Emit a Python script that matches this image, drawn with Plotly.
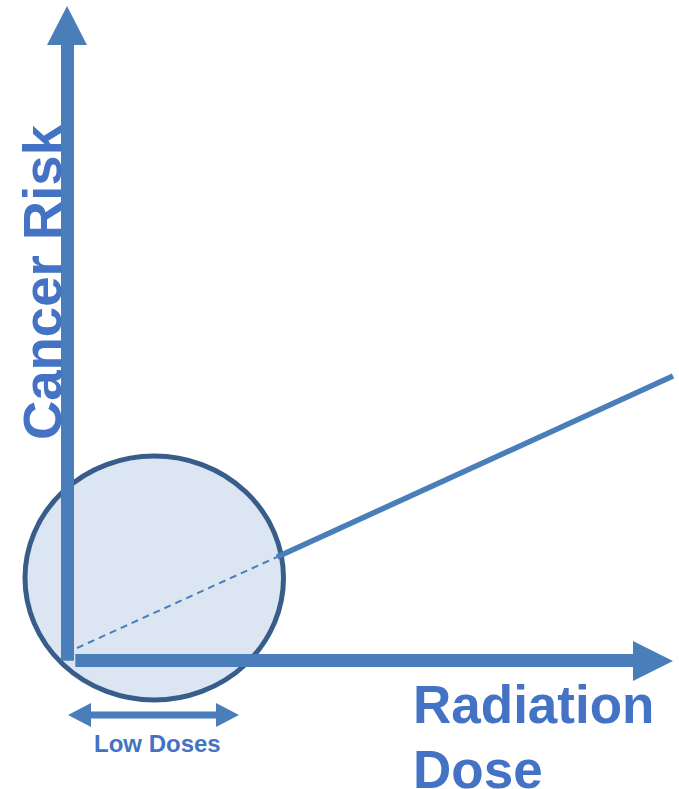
import plotly.graph_objects as go

# ---- data (dose/risk in chart units, origin at the axes corner) ----
lnt_dose_low = [9, 209]        # dashed (low-dose extrapolation)
lnt_risk_low = [13, 104]
lnt_dose_high = [209, 605]     # solid (observed range)
lnt_risk_high = [104, 285]

x_title = ["Radiation", "Dose"]
y_title = "Cancer Risk"
low_label = "Low Doses"

ARROW = "#4A7EBB"
TEXT = "#4472C4"
CIRC_LINE = "#385D8A"
CIRC_FILL = "#DCE6F2"
FONT = "Liberation Sans, Arial, sans-serif"

fig = go.Figure()

fig.add_trace(go.Scatter(x=lnt_dose_low, y=lnt_risk_low, mode="lines",
                         line=dict(color=ARROW, width=2, dash="7px,5px"),
                         hoverinfo="skip", showlegend=False))
fig.add_trace(go.Scatter(x=lnt_dose_high, y=lnt_risk_high, mode="lines",
                         line=dict(color=ARROW, width=5.5),
                         hoverinfo="skip", showlegend=False))

shapes = []
# low-dose region circle (below traces)
shapes.append(dict(type="circle", xref="x", yref="y", layer="below",
                   x0=-43, x1=215.5, y0=-39, y1=205,
                   line=dict(color=CIRC_LINE, width=5), fillcolor=CIRC_FILL))
# vertical axis arrow
shapes.append(dict(type="line", xref="x", yref="y", x0=-0.5, x1=-0.5, y0=0.3, y1=617,
                   line=dict(color=ARROW, width=13)))
shapes.append(dict(type="path", xref="x", yref="y",
                   path="M -21,616 L 19,616 L -1,655 Z",
                   fillcolor=ARROW, line=dict(width=0)))
# horizontal axis arrow
shapes.append(dict(type="line", xref="x", yref="y", x0=7.3, x1=566, y0=0.5, y1=0.5,
                   line=dict(color=ARROW, width=13)))
shapes.append(dict(type="path", xref="x", yref="y",
                   path="M 565,20 L 565,-20 L 605,0 Z",
                   fillcolor=ARROW, line=dict(width=0)))
# low doses double arrow
shapes.append(dict(type="line", xref="x", yref="y", x0=22, x1=149, y0=-54, y1=-54,
                   line=dict(color=ARROW, width=7)))
shapes.append(dict(type="path", xref="x", yref="y",
                   path="M 0,-54 L 23,-42 L 23,-66 Z",
                   fillcolor=ARROW, line=dict(width=0)))
shapes.append(dict(type="path", xref="x", yref="y",
                   path="M 171,-54 L 148,-42 L 148,-66 Z",
                   fillcolor=ARROW, line=dict(width=0)))

annotations = [
    dict(x=344, y=-43.3, xref="x", yref="y", text=x_title[0], showarrow=False,
         xanchor="left", yanchor="middle", borderpad=0,
         font=dict(family=FONT, size=53, color=TEXT, weight="bold")),
    dict(x=344, y=-108.6, xref="x", yref="y", text=x_title[1], showarrow=False,
         xanchor="left", yanchor="middle", borderpad=0,
         font=dict(family=FONT, size=53, color=TEXT, weight="bold")),
    dict(x=-25.4, y=378.5, xref="x", yref="y", text=y_title, showarrow=False,
         textangle=-90, xanchor="center", yanchor="middle", borderpad=0,
         font=dict(family=FONT, size=54.5, color=TEXT, weight="bold")),
    dict(x=89, y=-82.7, xref="x", yref="y", text=low_label, showarrow=False,
         xanchor="center", yanchor="middle", borderpad=0,
         font=dict(family=FONT, size=24, color=TEXT, weight="bold")),
]

fig.update_layout(
    width=679, height=789, autosize=False,
    margin=dict(l=0, r=0, t=0, b=0),
    paper_bgcolor="white", plot_bgcolor="white",
    xaxis=dict(range=[-68, 611], visible=False, fixedrange=True),
    yaxis=dict(range=[-128, 661], visible=False, fixedrange=True),
    shapes=shapes, annotations=annotations, showlegend=False,
)

fig.write_html("out.html", config={"displayModeBar": False},
               post_script="document.body.style.margin='0';document.body.style.overflow='hidden';")
